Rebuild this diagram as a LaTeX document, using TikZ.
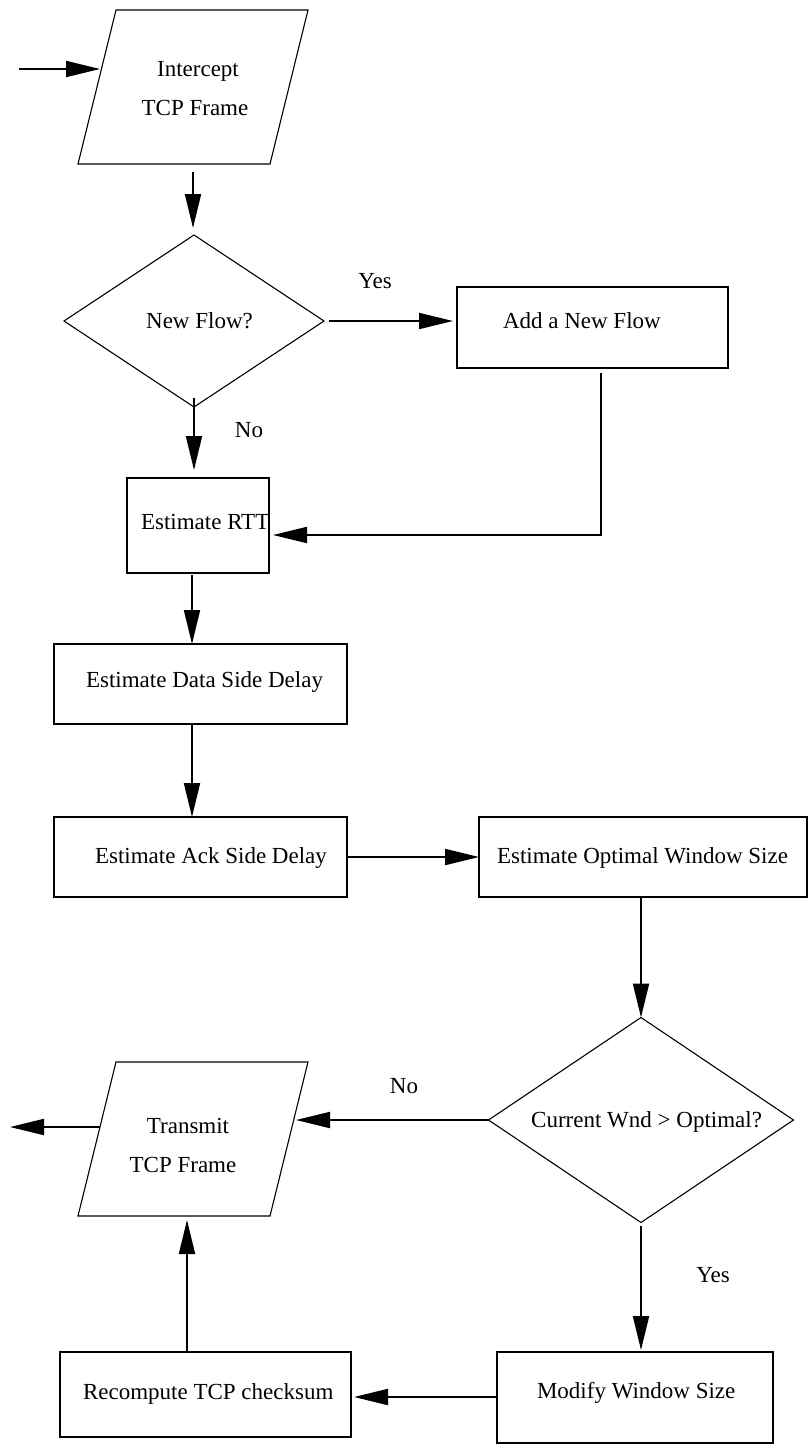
\documentclass[tikz,border=0pt]{standalone}
\usepackage{fontspec}
\setmainfont{Liberation Serif}
\usetikzlibrary{arrows.meta,shapes.geometric,calc}

\begin{document}
\begin{tikzpicture}[x=1pt,y=-1pt,
  every node/.style={font=\fontsize{23}{27}\selectfont, inner sep=0pt, outer sep=0pt},
  procbox/.style={draw, line width=1.1pt, rectangle},
  decision/.style={draw, line width=1.1pt, diamond},
  frame/.style={rectangle},
  ioline/.style={line width=1.1pt, line join=miter},
  txt/.style={anchor=base},
  flow/.style={line width=2pt, -{Triangle[length=34pt,width=16pt]}}
]
\useasboundingbox (0,0) rectangle (809,1449);

% ---- shapes ----
\node[frame, minimum width=230, minimum height=154] (inter) at (193,87) {};
\draw[ioline] ([xshift=38pt]inter.north west) -- (inter.north east)
  -- ([xshift=-38pt]inter.south east) -- (inter.south west) -- cycle;

\node[decision, minimum width=260, minimum height=172] (nf) at (194,321) {};
\node[procbox, minimum width=271, minimum height=81] (add) at (592.5,327.5) {};
\node[procbox, minimum width=142, minimum height=95] (rtt) at (198,525.5) {};
\node[procbox, minimum width=293, minimum height=80] (data) at (200.5,684) {};
\node[procbox, minimum width=293, minimum height=80] (ack) at (200.5,857) {};
\node[procbox, minimum width=328, minimum height=80] (opt) at (643,857) {};
\node[decision, minimum width=305, minimum height=205] (cur) at (641,1120) {};

\node[frame, minimum width=230, minimum height=154] (trans) at (193,1139) {};
\draw[ioline] ([xshift=38pt]trans.north west) -- (trans.north east)
  -- ([xshift=-38pt]trans.south east) -- (trans.south west) -- cycle;

\node[procbox, minimum width=276, minimum height=91] (mod) at (635,1397.5) {};
\node[procbox, minimum width=291, minimum height=85] (rec) at (205.5,1394.5) {};

% ---- texts ----
\node[txt] (inter-a) at (198,76) {Intercept};
\node[txt] (inter-b) at (195,115) {TCP Frame};
\node[txt] (nf-t) at (199.5,328) {New Flow?};
\node[txt] (yes1) at (375,288) {Yes};
\node[txt, anchor=base west] (add-t) at (503,328) {Add a New Flow};
\node[txt] (no1) at (249,437) {No};
\node[txt, anchor=base west] (rtt-t) at (141,529) {Estimate RTT};
\node[txt, anchor=base east] (data-t) at (323,687) {Estimate Data Side Delay};
\node[txt, anchor=base west] (ack-t) at (95,863) {Estimate Ack Side Delay};
\node[txt, anchor=base west] (opt-t) at (497,863) {Estimate Optimal Window Size};
\node[txt, anchor=base east] (cur-t) at (762,1127) {Current Wnd > Optimal?};
\node[txt] (no2) at (404,1093) {No};
\node[txt] (trans-a) at (188,1133) {Transmit};
\node[txt] (trans-b) at (183,1172) {TCP Frame};
\node[txt] (yes2) at (713,1282) {Yes};
\node[txt, anchor=base west] (mod-t) at (537,1398) {Modify Window Size};
\node[txt, anchor=base west] (rec-t) at (83,1399) {Recompute TCP checksum};

% ---- edge points on the slanted frames ----
\coordinate (src) at (19,69);
\coordinate (inter-w) at (100,69);
\coordinate (trans-e) at (296,1120);
\coordinate (trans-w) at (100,1127);
\coordinate (sink) at (10,1127);

% ---- connectors ----
\draw[flow] (src) -- (inter-w);
\draw[flow, shorten <=8pt, shorten >=7pt] (inter.south) -- (inter.south |- nf.north);
\draw[flow, shorten <=5pt, shorten >=4pt] (nf.east) -- (nf.east -| add.west);
\draw[flow, shorten <=-9pt, shorten >=8pt] (nf.south) -- (nf.south |- rtt.north);
\draw[flow, shorten >=4pt] ([xshift=8.5pt,yshift=-5pt]add.south) |- ([yshift=-9.5pt]rtt.east);
\draw[flow, shorten <=2pt] ([xshift=-6pt]rtt.south) -- ([xshift=-6pt]rtt.south |- data.north);
\draw[flow] ([xshift=-8.5pt]data.south) -- ([xshift=-8.5pt]data.south |- ack.north);
\draw[flow] (ack.east) -- (opt.west);
\draw[flow] (cur.north |- opt.south) -- (cur.north);
\draw[flow] (cur.west) -- (trans-e);
\draw[flow, shorten <=3pt, shorten >=2pt] (cur.south) -- (cur.south |- mod.north);
\draw[flow, shorten >=3pt] ([yshift=0.5pt]mod.west) -- ([yshift=0.5pt]mod.west -| rec.east);
\draw[flow, shorten >=4pt] ([xshift=-18.5pt]rec.north) -- ([xshift=-18.5pt]rec.north |- trans.south);
\draw[flow] (trans-w) -- (sink);
\end{tikzpicture}
\end{document}
